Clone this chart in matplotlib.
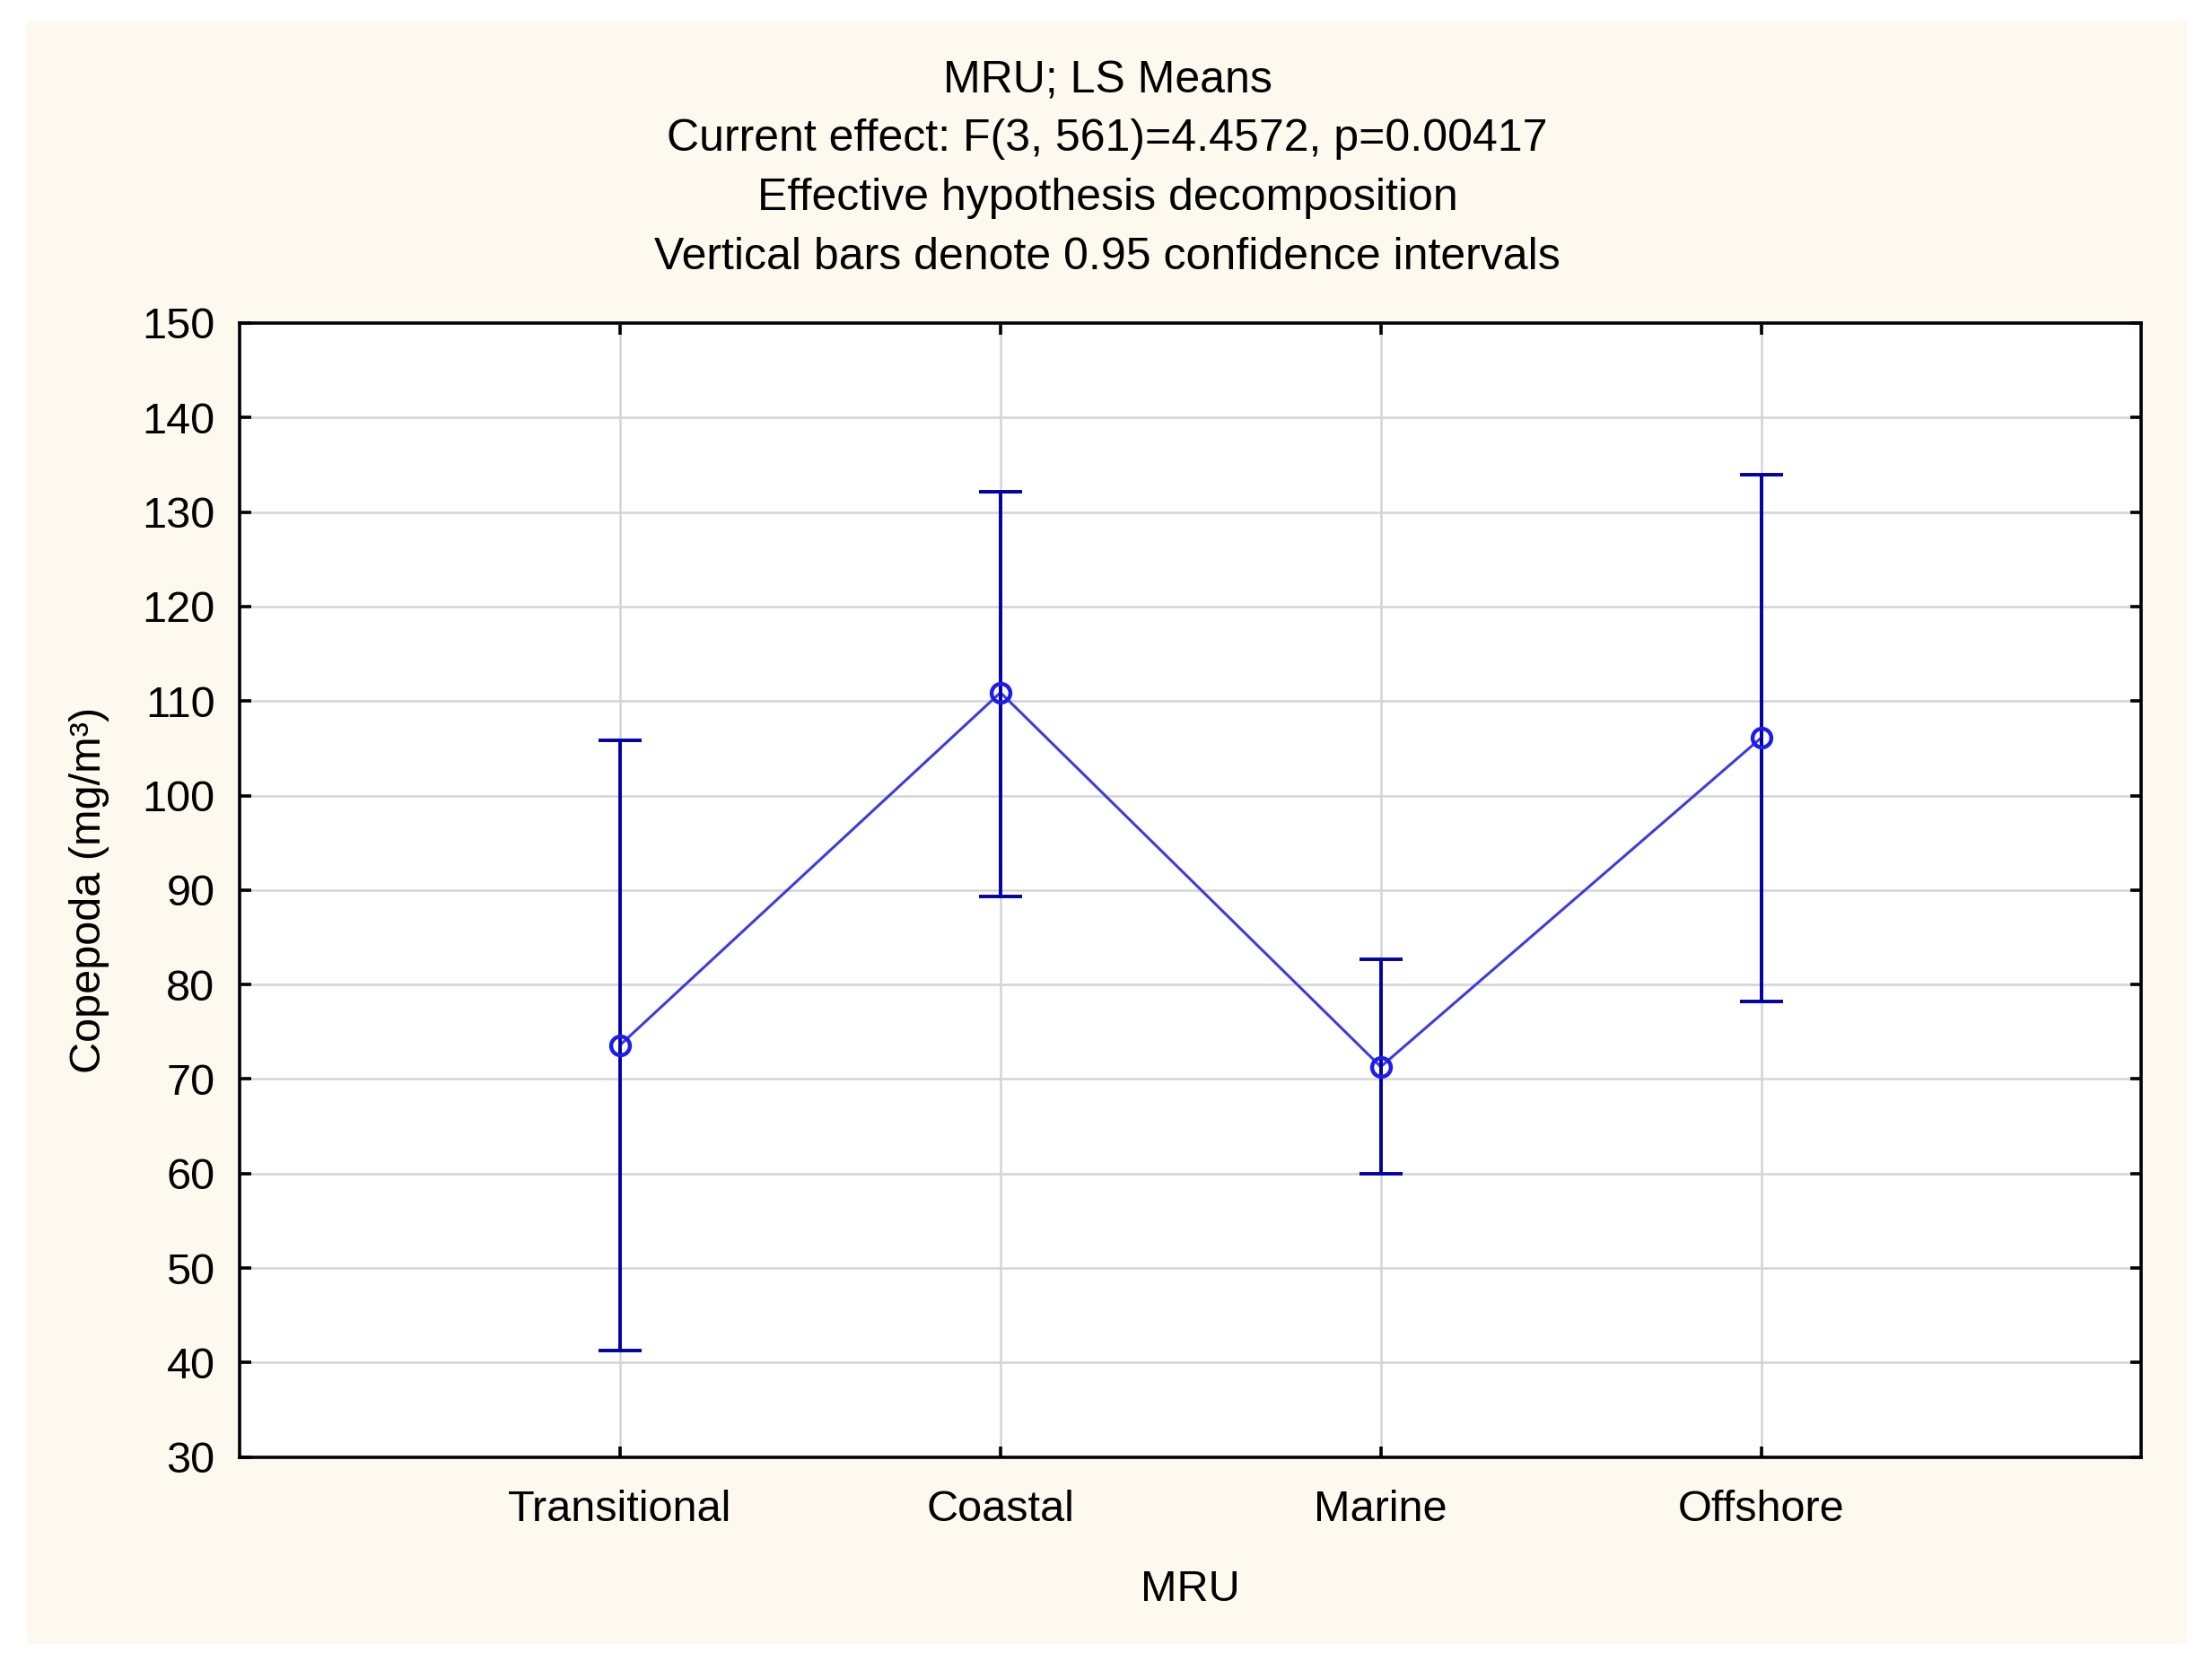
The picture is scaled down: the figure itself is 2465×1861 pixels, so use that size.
import matplotlib.pyplot as plt
import matplotlib.patches as mpatches
import numpy as np

# Data
categories = ['Transitional', 'Coastal', 'Marine', 'Offshore']
means = [73.6, 110.9, 71.3, 106.1]
ci_low = [41.3, 89.3, 60.0, 78.2]
ci_high = [105.8, 132.1, 82.7, 133.9]
yticks = list(range(30, 151, 10))

title_lines = ['MRU; LS Means',
               'Current effect: F(3, 561)=4.4572, p=0.00417',
               'Effective hypothesis decomposition',
               'Vertical bars denote 0.95 confidence intervals']

plt.rcParams['font.family'] = ['Liberation Sans', 'DejaVu Sans']

W, H = 2465, 1861
fs = 35
fig = plt.figure(figsize=(W / 100, H / 100), dpi=100)
fig.patch.set_facecolor('white')

# cream panel behind everything
fig.patches.append(mpatches.Rectangle((30 / W, 1 - 1832 / H), (2437 - 30) / W, (1832 - 24) / H,
                                      transform=fig.transFigure, facecolor='#fef9ef',
                                      edgecolor='none', zorder=-10))

ax = fig.add_axes([0.1084, 0.1275, 0.9681 - 0.1084, 0.8066 - 0.1275])
ax.set_facecolor('white')

x = np.arange(1, len(categories) + 1)
means_a = np.array(means)
yerr = np.array([means_a - np.array(ci_low), np.array(ci_high) - means_a])

ax.plot(x, means, color='#3c3ce0', lw=2.2, zorder=3)
ax.errorbar(x, means, yerr=yerr, fmt='none', ecolor='#0000a8', elinewidth=2.8,
            capsize=17, capthick=2.8, zorder=4)
ax.plot(x, means, ls='none', marker='o', markersize=15, markerfacecolor='none',
        markeredgecolor='#1c1cf0', markeredgewidth=3.2, zorder=5)

ax.set_xlim(0, 5)
ax.set_ylim(30, 150)
ax.set_xticks(x)
ax.set_xticklabels(categories)
ax.set_yticks(yticks)
ax.grid(True, color='#d4d4d4', lw=1.8)
ax.set_axisbelow(True)

for s in ax.spines.values():
    s.set_linewidth(2.6)
    s.set_color('black')

ax.tick_params(axis='both', direction='in', length=9, width=2.6, colors='black',
               labelsize=fs, top=True, right=True)
ax.tick_params(axis='y', pad=20)
ax.tick_params(axis='x', pad=26)

ax.set_xlabel('MRU', fontsize=fs, labelpad=32)
ax.set_ylabel('Copepoda (mg/m³)', fontsize=fs, labelpad=26)

for i, line in enumerate(title_lines):
    fig.text(0.5006, 1 - (90 + i * 65.5) / H, line, ha='center', va='center', fontsize=fs + 1)

plt.savefig('out.png', dpi=100, facecolor='white')
